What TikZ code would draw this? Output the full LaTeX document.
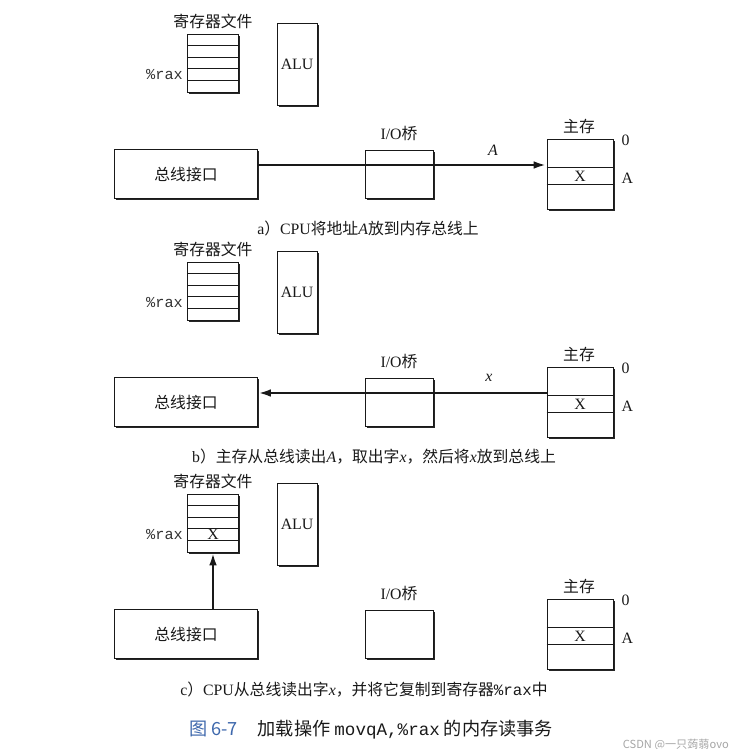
\documentclass[tikz,border=0pt]{standalone}
\usepackage{fontspec}
\setmainfont{Liberation Serif}
\setmonofont{Liberation Mono}
\newfontfamily\cjk{Noto Sans CJK SC}
\usetikzlibrary{arrows.meta,calc,shadows}
\definecolor{figblue}{RGB}{62,104,172}

\begin{document}
\begin{tikzpicture}[
  x=0.03cm,y=-0.03cm,
  >=Latex,
  line/.style={draw=black!90,line width=0.8pt},
  arr/.style={-{Latex[length=11pt,width=6.5pt]},draw=black!90,line width=2.2pt},
  box/.style={rectangle,draw=black!90,line width=0.8pt,fill=white,inner sep=0pt,
    drop shadow={shadow xshift=1.4pt,shadow yshift=-1.4pt,opacity=1,fill=black!85}},
  regbox/.style={box,minimum width=1.53cm,minimum height=1.74cm},
  alubox/.style={box,minimum width=1.2cm,minimum height=2.46cm},
  busbox/.style={box,minimum width=4.29cm,minimum height=1.47cm},
  iobox/.style={box,minimum width=2.04cm,minimum height=1.44cm},
  membox/.style={box,minimum width=1.98cm,minimum height=2.1cm},
  cn/.style={font=\cjk\fontsize{13.5}{16}\selectfont,text=black!90,inner sep=0pt},
  en/.style={font=\fontsize{13.5}{16}\selectfont,text=black!90,inner sep=0pt},
  tt/.style={font=\ttfamily\fontsize{13}{16}\selectfont,text=black!80,inner sep=0pt},
  captxt/.style={font=\fontsize{13.5}{16}\selectfont,text=black!90,inner sep=0pt}
]
\useasboundingbox (0,0) rectangle (735,749);

% ---------------- panel offsets (pixels, y downwards) ----------------
\def\yA{0}
\def\yB{228}
\def\yC{460}

% ---------------- a) CPU puts address A on the bus ----------------
\begin{scope}[shift={(0,\yA)}]
\node[cn] (rflaba) at (213,21) {寄存器文件};
\node[regbox] (rfa) at (213,63) {};
\foreach \k in {1,...,4}
  \draw[line] ($(rfa.north west)!\k/5!(rfa.south west)$) -- ($(rfa.north east)!\k/5!(rfa.south east)$);
\node[tt,anchor=east] (raxa) at ($(rfa.west)+(-4,11.6)$) {\%rax};
\node[alubox,en] (alua) at (297,64) {ALU};

\node[busbox,cn] (busa) at (186,174) {总线接口};
\node[iobox] (ioa) at (399,174) {};
\node[en] (iolaba) at (399,134) {I/O{\cjk 桥}};

\node[membox] (mema) at (580,174) {};
\node[cn] (memlaba) at (579,126) {主存};
\draw[line] ($(mema.north west)+(0,29)$) -- ($(mema.north east)+(0,29)$);
\draw[line] ($(mema.north west)+(0,46)$) -- ($(mema.north east)+(0,46)$);
\node[en] (cella) at ($(mema.north)+(0,37.5)$) {X};
\node[en,anchor=west] (zeroa) at ($(mema.north east)+(8,2)$) {0};
\node[en,anchor=west] (addra) at ($(mema.north east)+(8,40)$) {A};

\draw[arr] ($(busa.east)+(0,-9)$) -- ($(mema.west)+(0,-9)$);
\node[en] (laba) at (493,150) {\textit{A}};

\node[captxt] (capa) at (368,228) {a{\cjk ）}CPU{\cjk 将地址}\textit{A}{\cjk 放到内存总线上}};
\end{scope}

% ---------------- b) memory reads A and puts x on the bus ----------------
\begin{scope}[shift={(0,\yB)}]
\node[cn] (rflabb) at (213,21) {寄存器文件};
\node[regbox] (rfb) at (213,63) {};
\foreach \k in {1,...,4}
  \draw[line] ($(rfb.north west)!\k/5!(rfb.south west)$) -- ($(rfb.north east)!\k/5!(rfb.south east)$);
\node[tt,anchor=east] (raxb) at ($(rfb.west)+(-4,11.6)$) {\%rax};
\node[alubox,en] (alub) at (297,64) {ALU};

\node[busbox,cn] (busb) at (186,174) {总线接口};
\node[iobox] (iob) at (399,174) {};
\node[en] (iolabb) at (399,134) {I/O{\cjk 桥}};

\node[membox] (memb) at (580,174) {};
\node[cn] (memlabb) at (579,126) {主存};
\draw[line] ($(memb.north west)+(0,29)$) -- ($(memb.north east)+(0,29)$);
\draw[line] ($(memb.north west)+(0,46)$) -- ($(memb.north east)+(0,46)$);
\node[en] (cellb) at ($(memb.north)+(0,37.5)$) {X};
\node[en,anchor=west] (zerob) at ($(memb.north east)+(8,2)$) {0};
\node[en,anchor=west] (addrb) at ($(memb.north east)+(8,40)$) {A};

\draw[arr] ($(memb.west)+(0,-9)$) -- ($(busb.east)+(0,-9)$);
\node[en] (labb) at (489,150) {\textit{x}};

\node[captxt] (capb) at (374,229) {b{\cjk ）主存从总线读出}\textit{A}{\cjk ，取出字}\textit{x}{\cjk ，然后将}\textit{x}{\cjk 放到总线上}};
\end{scope}

% ---------------- c) CPU copies x into %rax ----------------
\begin{scope}[shift={(0,\yC)}]
\node[cn] (rflabc) at (213,21) {寄存器文件};
\node[regbox] (rfc) at (213,63) {};
\foreach \k in {1,...,4}
  \draw[line] ($(rfc.north west)!\k/5!(rfc.south west)$) -- ($(rfc.north east)!\k/5!(rfc.south east)$);
\node[tt,anchor=east] (raxc) at ($(rfc.west)+(-4,11.6)$) {\%rax};
\node[en] (regx) at ($(rfc.center)+(0,11.6)$) {X};
\node[alubox,en] (aluc) at (297,64) {ALU};

\node[busbox,cn] (busc) at (186,174) {总线接口};
\node[iobox] (ioc) at (399,174) {};
\node[en] (iolabc) at (399,134) {I/O{\cjk 桥}};

\node[membox] (memc) at (580,174) {};
\node[cn] (memlabc) at (579,126) {主存};
\draw[line] ($(memc.north west)+(0,29)$) -- ($(memc.north east)+(0,29)$);
\draw[line] ($(memc.north west)+(0,46)$) -- ($(memc.north east)+(0,46)$);
\node[en] (cellc) at ($(memc.north)+(0,37.5)$) {X};
\node[en,anchor=west] (zeroc) at ($(memc.north east)+(8,2)$) {0};
\node[en,anchor=west] (addrc) at ($(memc.north east)+(8,40)$) {A};

\draw[arr] (busc.north -| rfc.south) -- (rfc.south);

\node[captxt] (capc) at (364,230) {c{\cjk ）}CPU{\cjk 从总线读出字}\textit{x}{\cjk ，并将它复制到寄存器}{\ttfamily\%rax}{\cjk 中}};
\end{scope}

% ---------------- figure caption and mark ----------------
\node[cn,font=\cjk\fontsize{15.5}{18}\selectfont] (figcap) at (371,730)
  {{\color{figblue}图 6-7}\hspace{1.1em}加载操作 {\ttfamily\fontsize{15}{18}\selectfont movqA,\%rax} 的内存读事务};
\node[font=\cjk\fontsize{9.5}{11}\selectfont,text=black!35,anchor=east,inner sep=0pt] (mark) at (729,745) {CSDN @一只蒟蒻ovo};

\end{tikzpicture}
\end{document}
